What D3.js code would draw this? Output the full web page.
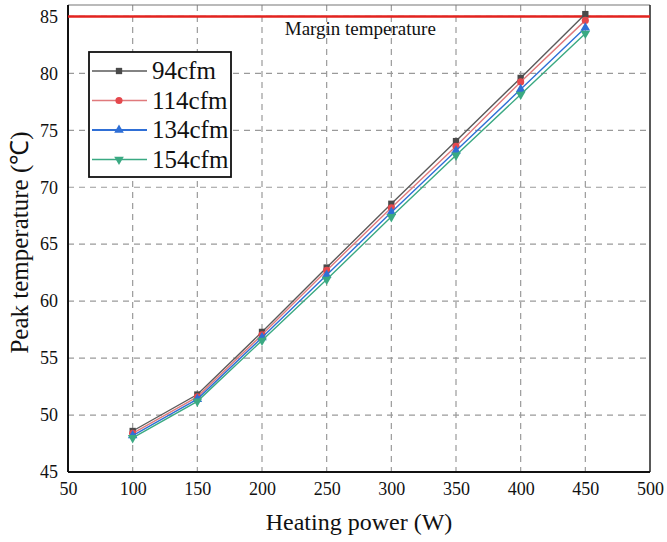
<!DOCTYPE html>
<html>
<head>
<meta charset="utf-8">
<script src="https://cdn.jsdelivr.net/npm/d3@7"></script>
<style>
  body { margin: 0; background: #fff; }
</style>
</head>
<body>
<div id="chart"></div>
<script>
const powers = [100, 150, 200, 250, 300, 350, 400, 450];
const seriesNames = ["94cfm", "114cfm", "134cfm", "154cfm"];
const temp94 = [48.6, 51.8, 57.3, 62.95, 68.55, 74.05, 79.6, 85.2];
const temp114 = [48.4, 51.6, 57.05, 62.7, 68.2, 73.6, 79.25, 84.65];
const temp134 = [48.2, 51.4, 56.8, 62.3, 67.8, 73.2, 78.6, 84.0];
const temp154 = [48.0, 51.2, 56.55, 61.9, 67.4, 72.8, 78.15, 83.5];
const xTicks = [50, 100, 150, 200, 250, 300, 350, 400, 450, 500];
const yTicks = [45, 50, 55, 60, 65, 70, 75, 80, 85];
const marginTemp = 85;

(function () {
  const width = 667, height = 542;
  const margin = { top: 5, right: 17, bottom: 70, left: 68 };
  const innerWidth = width - margin.left - margin.right;
  const innerHeight = height - margin.top - margin.bottom;
  const serif = "Liberation Serif";

  const colors = ["#4a4a4a", "#e5484d", "#2f6fd6", "#3aa982"];
  const lineColors = ["#5a5a5a", "#e07a7c", "#2f6fd6", "#3aa982"];
  const symbols = [d3.symbolSquare, d3.symbolCircle, d3.symbolTriangle, "down"];
  const values = [temp94, temp114, temp134, temp154];

  const svg = d3.select("#chart").append("svg")
    .attr("width", width).attr("height", height)
    .attr("font-family", serif);
  const g = svg.append("g").attr("transform", `translate(${margin.left},${margin.top})`);

  const x = d3.scaleLinear().domain([50, 500]).range([0, innerWidth]);
  const y = d3.scaleLinear().domain([45, 86]).range([innerHeight, 0]);

  // grid
  g.append("g").selectAll("line").data(xTicks.slice(1, -1)).join("line")
    .attr("x1", d => x(d)).attr("x2", d => x(d))
    .attr("y1", 0).attr("y2", innerHeight)
    .attr("stroke", "#9a9a9a").attr("stroke-width", 1.2).attr("stroke-dasharray", "6,5");
  g.append("g").selectAll("line").data(yTicks.slice(1)).join("line")
    .attr("x1", 0).attr("x2", innerWidth)
    .attr("y1", d => y(d)).attr("y2", d => y(d))
    .attr("stroke", "#9a9a9a").attr("stroke-width", 1.2).attr("stroke-dasharray", "6,5");

  // frame
  g.append("line").attr("x1", 0).attr("x2", innerWidth).attr("y1", 0).attr("y2", 0)
    .attr("stroke", "#777").attr("stroke-width", 1.2);
  g.append("line").attr("x1", innerWidth).attr("x2", innerWidth).attr("y1", 0).attr("y2", innerHeight)
    .attr("stroke", "#222").attr("stroke-width", 1.5);
  g.append("line").attr("x1", 0).attr("x2", 0).attr("y1", 0).attr("y2", innerHeight)
    .attr("stroke", "#111").attr("stroke-width", 2);
  g.append("line").attr("x1", 0).attr("x2", innerWidth).attr("y1", innerHeight).attr("y2", innerHeight)
    .attr("stroke", "#111").attr("stroke-width", 2);

  // tick labels
  const xAxis = d3.axisBottom(x).tickValues(xTicks).tickSize(0).tickPadding(10);
  g.append("g").attr("transform", `translate(0,${innerHeight})`).call(xAxis)
    .attr("font-family", serif).attr("font-size", 18)
    .call(s => s.select(".domain").remove())
    .selectAll("text").attr("fill", "#111");
  const yAxis = d3.axisLeft(y).tickValues(yTicks).tickSize(0).tickPadding(10);
  g.append("g").call(yAxis)
    .attr("font-family", serif).attr("font-size", 18)
    .call(s => s.select(".domain").remove())
    .selectAll("text").attr("fill", "#111");

  // margin temperature
  g.append("line").attr("x1", 0).attr("x2", innerWidth)
    .attr("y1", y(marginTemp)).attr("y2", y(marginTemp))
    .attr("stroke", "#e3231f").attr("stroke-width", 2.5);
  g.append("text").attr("x", x(276)).attr("y", y(marginTemp) + 19)
    .attr("text-anchor", "middle").attr("font-size", 19).attr("fill", "#111")
    .text("Margin temperature");

  // series
  const line = d3.line().x((d, i) => x(powers[i])).y(d => y(d));
  const markerPath = (k, size) => {
    if (symbols[k] === "down") {
      return d3.symbol(d3.symbolTriangle, size)();
    }
    return d3.symbol(symbols[k], size)();
  };
  values.forEach((vals, k) => {
    g.append("path").datum(vals).attr("d", line)
      .attr("fill", "none").attr("stroke", lineColors[k]).attr("stroke-width", 1.4);
    g.append("g").selectAll("path").data(vals).join("path")
      .attr("d", markerPath(k, 40))
      .attr("transform", (d, i) => `translate(${x(powers[i])},${y(d)})${symbols[k] === "down" ? " rotate(180)" : ""}`)
      .attr("fill", colors[k]);
  });

  // legend
  const lg = svg.append("g").attr("transform", "translate(89,52)");
  lg.append("rect").attr("width", 142).attr("height", 125)
    .attr("fill", "#fff").attr("stroke", "#111").attr("stroke-width", 1.8);
  seriesNames.forEach((name, k) => {
    const yy = 19 + k * 29.5;
    lg.append("line").attr("x1", 3).attr("x2", 58).attr("y1", yy).attr("y2", yy)
      .attr("stroke", lineColors[k]).attr("stroke-width", k === 2 ? 2 : 1.4);
    lg.append("path").attr("d", markerPath(k, 40))
      .attr("transform", `translate(30,${yy})${symbols[k] === "down" ? " rotate(180)" : ""}`)
      .attr("fill", colors[k]);
    lg.append("text").attr("x", 63).attr("y", yy + 8).attr("font-size", 25)
      .attr("fill", "#111").text(name);
  });

  // axis titles
  svg.append("text").attr("x", margin.left + innerWidth / 2).attr("y", 530)
    .attr("text-anchor", "middle").attr("font-size", 24).attr("fill", "#111")
    .text("Heating power (W)");
  svg.append("text").attr("transform", `translate(28,${margin.top + innerHeight / 2 + 4}) rotate(-90)`)
    .attr("text-anchor", "middle").attr("font-size", 25).attr("fill", "#111")
    .text("Peak temperature (℃)");
})();
</script>
</body>
</html>
